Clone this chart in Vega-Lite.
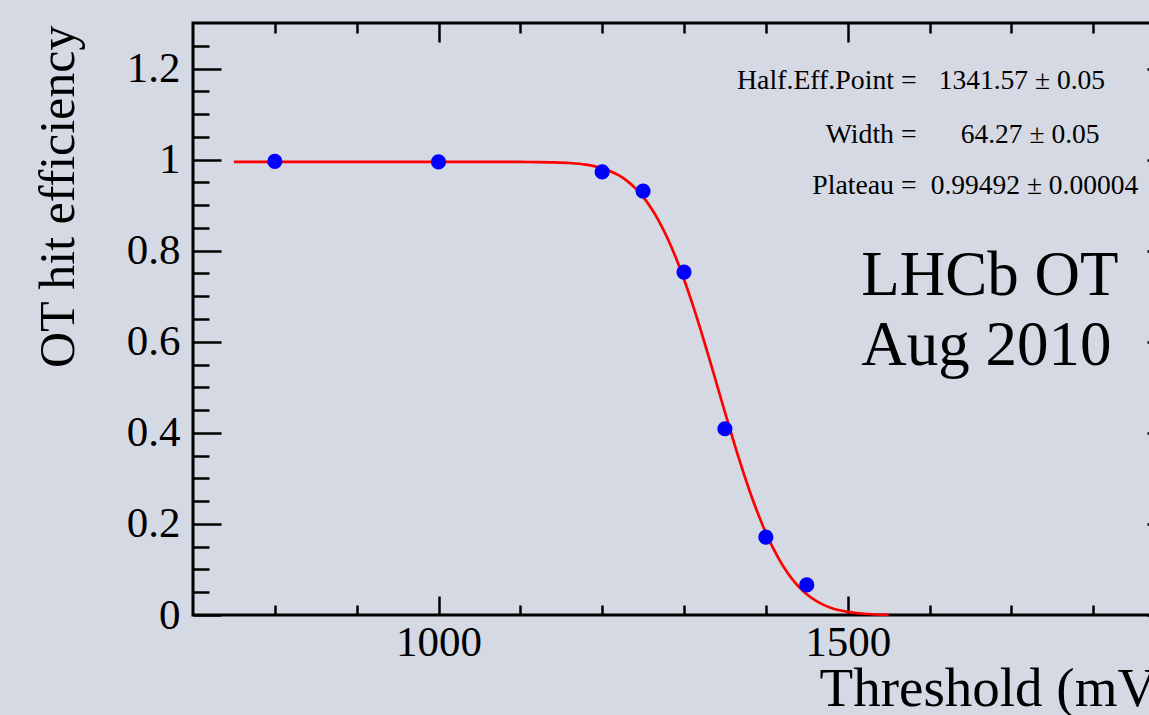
{
  "$schema": "https://vega.github.io/schema/vega-lite/v6.json",
  "width": 982,
  "height": 592,
  "autosize": {"type": "none"},
  "padding": {"left": 193, "top": 23, "right": -26, "bottom": 100},
  "background": "#d5d9e4",
  "config": {
    "view": {"stroke": "#000000", "strokeWidth": 3},
    "axis": {
      "domain": false, "grid": false, "tickColor": "#000000", "tickWidth": 2.5,
      "labelFont": "Liberation Serif", "labelColor": "#000000", "labelFontSize": 43,
      "labelFlush": false, "labelOverlap": false,
      "titleFont": "Liberation Serif", "titleColor": "#000000", "titleFontWeight": "normal"
    },
    "text": {"font": "Liberation Serif", "color": "#000000"}
  },
  "datasets": {
    "curve": [
      {"x":750,"y":0.99492},{"x":800,"y":0.99492},{"x":900,"y":0.99492},{"x":1000,"y":0.99492},{"x":1050,"y":0.9949},{"x":1080,"y":0.99487},{"x":1100,"y":0.99483},{"x":1120,"y":0.99464},{"x":1140,"y":0.99406},{"x":1160,"y":0.99257},{"x":1180,"y":0.98898},{"x":1200,"y":0.98118},{"x":1210,"y":0.97469},{"x":1220,"y":0.96579},{"x":1230,"y":0.95384},{"x":1240,"y":0.93819},{"x":1250,"y":0.91818},{"x":1260,"y":0.89323},{"x":1270,"y":0.86286},{"x":1280,"y":0.82672},{"x":1290,"y":0.78483},{"x":1300,"y":0.73736},{"x":1310,"y":0.68486},{"x":1320,"y":0.6282},{"x":1330,"y":0.56853},{"x":1340,"y":0.50717},{"x":1350,"y":0.44554},{"x":1360,"y":0.38516},{"x":1370,"y":0.32743},{"x":1380,"y":0.27352},{"x":1390,"y":0.2244},{"x":1400,"y":0.18073},{"x":1410,"y":0.14278},{"x":1420,"y":0.11062},{"x":1430,"y":0.084},{"x":1440,"y":0.0625},{"x":1450,"y":0.04556},{"x":1460,"y":0.03252},{"x":1470,"y":0.02273},{"x":1480,"y":0.01554},{"x":1490,"y":0.01041},{"x":1500,"y":0.00682},{"x":1510,"y":0.00437},{"x":1520,"y":0.00274},{"x":1530,"y":0.00168},{"x":1540,"y":0.001},{"x":1550,"y":0.00059}
    ],
    "points": [
      {"x":800,"y":0.996},{"x":1000,"y":0.995},{"x":1200,"y":0.973},{"x":1250,"y":0.931},{"x":1300,"y":0.753},{"x":1350,"y":0.409},{"x":1400,"y":0.171},{"x":1450,"y":0.066}
    ],
    "labels": [
      {"x":1584.3,"y":1.1554,"t":"Half.Eff.Point ="},
      {"x":1584.3,"y":1.0368,"t":"Width ="},
      {"x":1584.3,"y":0.9248,"t":"Plateau ="}
    ],
    "values": [
      {"x":1611.2,"y":1.1554,"t":"1341.57 ± 0.05"},
      {"x":1638.1,"y":1.0368,"t":"64.27 ± 0.05"},
      {"x":1601.4,"y":0.9248,"t":"0.99492 ± 0.00004"}
    ],
    "lhcb": [
      {"x":1516.5,"y":0.703,"t":"LHCb OT"},
      {"x":1516.5,"y":0.549,"t":"Aug 2010"}
    ]
  },
  "resolve": {"axis": {"x": "independent", "y": "independent"}},
  "layer": [
    {
      "data": {"name": "curve"},
      "mark": {"type": "line", "color": "#ff0000", "strokeWidth": 2.7, "interpolate": "monotone"},
      "encoding": {
        "x": {"field": "x", "type": "quantitative",
          "scale": {"domain": [700, 1900], "nice": false, "zero": false},
          "axis": {"orient": "bottom", "values": [1000, 1500], "tickSize": -19, "labelPadding": 25, "format": "d",
            "title": "Threshold (mV)", "titleFontSize": 55, "titleX": 982, "titleY": 90,
            "titleAlign": "right", "titleBaseline": "alphabetic", "titleAngle": 0}},
        "y": {"field": "y", "type": "quantitative",
          "scale": {"domain": [0, 1.3], "nice": false, "zero": false},
          "axis": {"orient": "left", "values": [0, 0.2, 0.4, 0.6, 0.8, 1, 1.2], "tickSize": -28, "labelPadding": 41, "format": "~g",
            "title": "OT hit efficiency", "titleFontSize": 50, "titleX": -120, "titleY": 2,
            "titleAlign": "right", "titleBaseline": "alphabetic", "titleAngle": 270}}
      }
    },
    {
      "data": {"name": "points"},
      "mark": {"type": "circle", "color": "#0000ff", "opacity": 1, "size": 230},
      "encoding": {
        "x": {"field": "x", "type": "quantitative",
          "scale": {"domain": [700, 1900], "nice": false, "zero": false},
          "axis": {"orient": "bottom", "values": [800, 900, 1100, 1200, 1300, 1400, 1600, 1700, 1800], "tickSize": -10, "labels": false, "title": null}},
        "y": {"field": "y", "type": "quantitative",
          "scale": {"domain": [0, 1.3], "nice": false, "zero": false},
          "axis": {"orient": "left", "values": [0.05, 0.1, 0.15, 0.25, 0.3, 0.35, 0.45, 0.5, 0.55, 0.65, 0.7, 0.75, 0.85, 0.9, 0.95, 1.05, 1.1, 1.15, 1.25], "tickSize": -16, "labels": false, "title": null}}
      }
    },
    {
      "data": {"name": "labels"},
      "mark": {"type": "text", "align": "right", "baseline": "alphabetic", "fontSize": 27.8},
      "encoding": {
        "x": {"field": "x", "type": "quantitative",
          "scale": {"domain": [700, 1900], "nice": false, "zero": false},
          "axis": {"orient": "top", "values": [1000, 1500], "tickSize": -19, "labels": false, "title": null}},
        "y": {"field": "y", "type": "quantitative",
          "scale": {"domain": [0, 1.3], "nice": false, "zero": false},
          "axis": {"orient": "right", "values": [0, 0.2, 0.4, 0.6, 0.8, 1, 1.2], "tickSize": -28, "labels": false, "title": null}},
        "text": {"field": "t"}
      }
    },
    {
      "data": {"name": "values"},
      "mark": {"type": "text", "align": "left", "baseline": "alphabetic", "fontSize": 27.5},
      "encoding": {
        "x": {"field": "x", "type": "quantitative",
          "scale": {"domain": [700, 1900], "nice": false, "zero": false},
          "axis": {"orient": "top", "values": [800, 900, 1100, 1200, 1300, 1400, 1600, 1700, 1800], "tickSize": -10, "labels": false, "title": null}},
        "y": {"field": "y", "type": "quantitative",
          "scale": {"domain": [0, 1.3], "nice": false, "zero": false},
          "axis": {"orient": "right", "values": [0.05, 0.1, 0.15, 0.25, 0.3, 0.35, 0.45, 0.5, 0.55, 0.65, 0.7, 0.75, 0.85, 0.9, 0.95, 1.05, 1.1, 1.15, 1.25], "tickSize": -16, "labels": false, "title": null}},
        "text": {"field": "t"}
      }
    },
    {
      "data": {"name": "lhcb"},
      "mark": {"type": "text", "align": "left", "baseline": "alphabetic", "fontSize": 63},
      "encoding": {
        "x": {"field": "x", "type": "quantitative",
          "scale": {"domain": [700, 1900], "nice": false, "zero": false}, "axis": null},
        "y": {"field": "y", "type": "quantitative",
          "scale": {"domain": [0, 1.3], "nice": false, "zero": false}, "axis": null},
        "text": {"field": "t"}
      }
    }
  ]
}
